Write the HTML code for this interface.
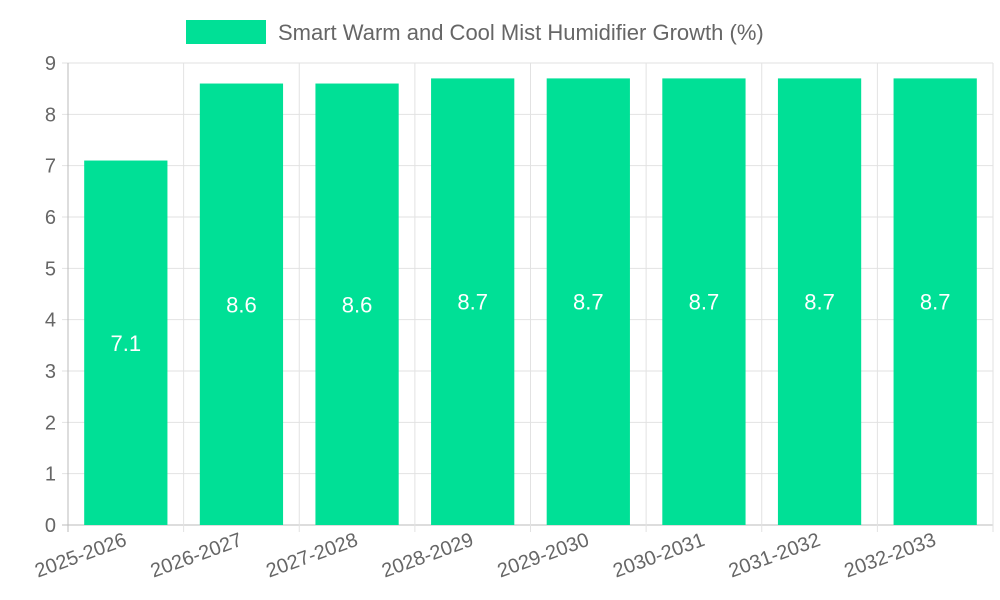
<!DOCTYPE html>
<html><head><meta charset="utf-8"><style>
html,body{margin:0;padding:0;background:#fff;}
svg{display:block;font-family:"Liberation Sans",sans-serif;}
</style></head><body>
<svg id="chart" width="1000" height="600" viewBox="0 0 1000 600">
<g id="legend">
<rect x="186" y="20" width="80" height="24" fill="#00e096"/>
<text x="278" y="40" font-size="22" fill="#666">Smart Warm and Cool Mist Humidifier Growth (%)</text>
</g>
<g id="grid"></g>
<g id="bars"></g>
<g id="axes"></g>
</svg>
<script>
const categories=["2025-2026","2026-2027","2027-2028","2028-2029","2029-2030","2030-2031","2031-2032","2032-2033"];
const values=[7.1,8.6,8.6,8.7,8.7,8.7,8.7,8.7];
const yTicks=[0,1,2,3,4,5,6,7,8,9];
const NS="http://www.w3.org/2000/svg";
const L=68,R=993,T=63,B=525,yMax=9;
const bw=(R-L)/categories.length;
const y=v=>B-(v/yMax)*(B-T);
const x=i=>L+i*bw;
function mk(tag,attrs,parent,txt){const e=document.createElementNS(NS,tag);for(const k in attrs)e.setAttribute(k,attrs[k]);if(txt!=null)e.textContent=txt;document.getElementById(parent).appendChild(e);return e;}
yTicks.forEach(t=>{
 const g=mk('line',{x1:L-6,x2:R,y1:y(t),y2:y(t),stroke:t===0?'#bbb':'#e2e2e2','stroke-width':1},'grid');
 
 
 const lb=mk('text',{x:L-12,y:y(t)+7,'text-anchor':'end','font-size':20,fill:'#666'},'axes',t);
 
 
});
for(let i=0;i<=categories.length;i++){
 const g=mk('line',{x1:x(i),x2:x(i),y1:T,y2:B+7,stroke:i===0?'#bbb':'#e2e2e2','stroke-width':1},'grid');
 
 
}
categories.forEach((c,i)=>{
 const cx=x(i)+bw/2, w=bw*0.72;
 const r=mk('rect',{x:cx-w/2,y:y(values[i]),width:w,height:B-y(values[i]),fill:'#00e096'},'bars');
 
 
 const v=mk('text',{x:cx,y:(y(values[i])+B)/2+8,'text-anchor':'middle','font-size':22,fill:'#fff'},'bars',values[i]);
 
 
 const lb=mk('text',{x:cx+2,y:545,'text-anchor':'end','font-size':20,fill:'#666',transform:`rotate(-20 ${cx+2} 545)`},'axes',c);
 
 
});
</script>
</body></html>
